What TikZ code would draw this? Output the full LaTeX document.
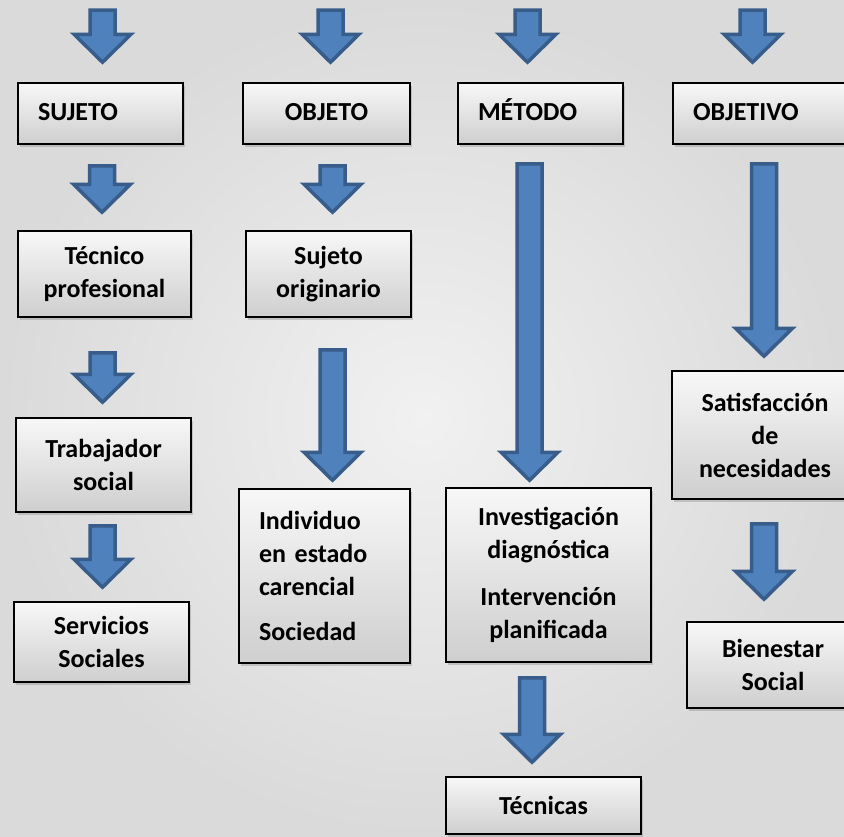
\documentclass[tikz,border=0pt]{standalone}
\usepackage{fontspec}
\setmainfont{Carlito}
\usetikzlibrary{calc,shadings,shadows}

\definecolor{azulflecha}{HTML}{4F81BD}
\definecolor{bordeflecha}{HTML}{385D8A}
\definecolor{fondoclaro}{RGB}{241,241,241}
\definecolor{fondooscuro}{RGB}{218,218,218}

\newcommand{\letra}{\fontsize{26}{33}\selectfont\bfseries\spaceskip=0.17em plus 0.05em\relax}
\newcommand{\astil}{12.5}
\newcommand{\punta}{28.5}
\newcommand{\cabeza}{28}
% flecha de bloque: [desplazamiento x]{desde}{hasta}{hueco arriba}{hueco abajo}
\newcommand{\flecha}[5][0]{%
  \coordinate (fa) at ($(#2)+(#1,#4)$);
  \coordinate (fb) at ($(fa |- #3)+(0,-#5)$);
  \draw[flecha] ($(fa)+(-\astil,0)$) -- ($(fa)+(\astil,0)$) -- ($(fb)+(\astil,-\cabeza)$)
    -- ($(fb)+(\punta,-\cabeza)$) -- (fb) -- ($(fb)+(-\punta,-\cabeza)$)
    -- ($(fb)+(-\astil,-\cabeza)$) -- cycle;}

\begin{document}
\begin{tikzpicture}[x=1pt,y=-1pt,
  caja/.style={draw=black, line width=1.5pt, top color=gray!6, bottom color=gray!38,
    drop shadow={opacity=0.35, shadow xshift=1.5pt, shadow yshift=-3pt},
    inner xsep=20pt, inner ysep=0pt, font=\letra},
  centro/.style={caja, align=center},
  izq/.style={caja, align=left},
  titulo/.style={text height=19pt, text depth=5pt, minimum height=61pt},
  flecha/.style={fill=azulflecha, draw=bordeflecha, line width=3.5pt, line join=miter}]
\useasboundingbox (0,0) rectangle (844,836);
\shade[inner color=fondoclaro, outer color=fondooscuro] (0,0) rectangle (844,836);

% fila de titulos
\node[izq, titulo, text width=125pt] (sujeto) at (100.5,113.5) {SUJETO};
\node[centro, titulo, text width=127pt] (objeto) at (326.5,113.5) {OBJETO};
\node[izq, titulo, text width=125pt] (metodo) at (540.5,113.5) {MÉTODO};
\node[izq, titulo, text width=145pt] (objetivo) at (765.5,113.5) {OBJETIVO};

% columna sujeto
\node[centro, text width=133pt, minimum height=86pt] (tecnico) at (104.5,274) {Técnico\\profesional};
\node[centro, text width=135pt, minimum height=94pt] (trabajador) at (103.5,465) {Trabajador\\social};
\node[centro, text width=135pt, minimum height=80pt] (servicios) at (101.5,642) {Servicios\\Sociales};

% columna objeto
\node[centro, text width=125pt, minimum height=86pt] (sujetoorig) at (328.5,274) {Sujeto\\originario};
\node[izq, text width=131pt, minimum height=174pt] (individuo) at (324.5,576)
  {Individuo\\en estado\\carencial\\[12pt]Sociedad};

% columna metodo
\node[centro, text width=165pt, minimum height=174pt] (investigacion) at (548.5,575)
  {Investigación\\diagnóstica\\[14pt]Intervención\\planificada};
\node[centro, text width=155pt, minimum height=57pt] (tecnicas) at (543.5,805.5) {Técnicas};

% columna objetivo
\node[centro, text width=146pt, minimum height=128pt] (satisfaccion) at (765,435) {Satisfacción\\de\\necesidades};
\node[centro, text width=132pt, minimum height=86pt] (bienestar) at (773,665) {Bienestar\\Social};

% flechas de entrada
\coordinate (ini1) at (102.5,10);
\coordinate (ini2) at (330.5,10);
\coordinate (ini3) at (527.5,10);
\coordinate (ini4) at (752.5,10);
\flecha{ini1}{sujeto.north}{0}{20}
\flecha{ini2}{objeto.north}{0}{20}
\flecha{ini3}{metodo.north}{0}{20}
\flecha{ini4}{objetivo.north}{0}{20}

% flechas entre cajas
\flecha[1.5]{sujeto.south}{tecnico.north}{21}{18}
\flecha[-2]{tecnico.south}{trabajador.north}{35}{15}
\flecha[-1]{trabajador.south}{servicios.north}{13}{14}
\flecha[6]{objeto.south}{sujetoorig.north}{21}{18}
\flecha[4]{sujetoorig.south}{individuo.north}{32}{8}
\flecha[-11]{metodo.south}{investigacion.north}{19}{7}
\flecha[-16.5]{investigacion.south}{tecnicas.north}{15}{14}
\flecha[-1.5]{objetivo.south}{satisfaccion.north}{19}{14}
\flecha[-1]{satisfaccion.south}{bienestar.north}{24}{22}
\end{tikzpicture}
\end{document}
